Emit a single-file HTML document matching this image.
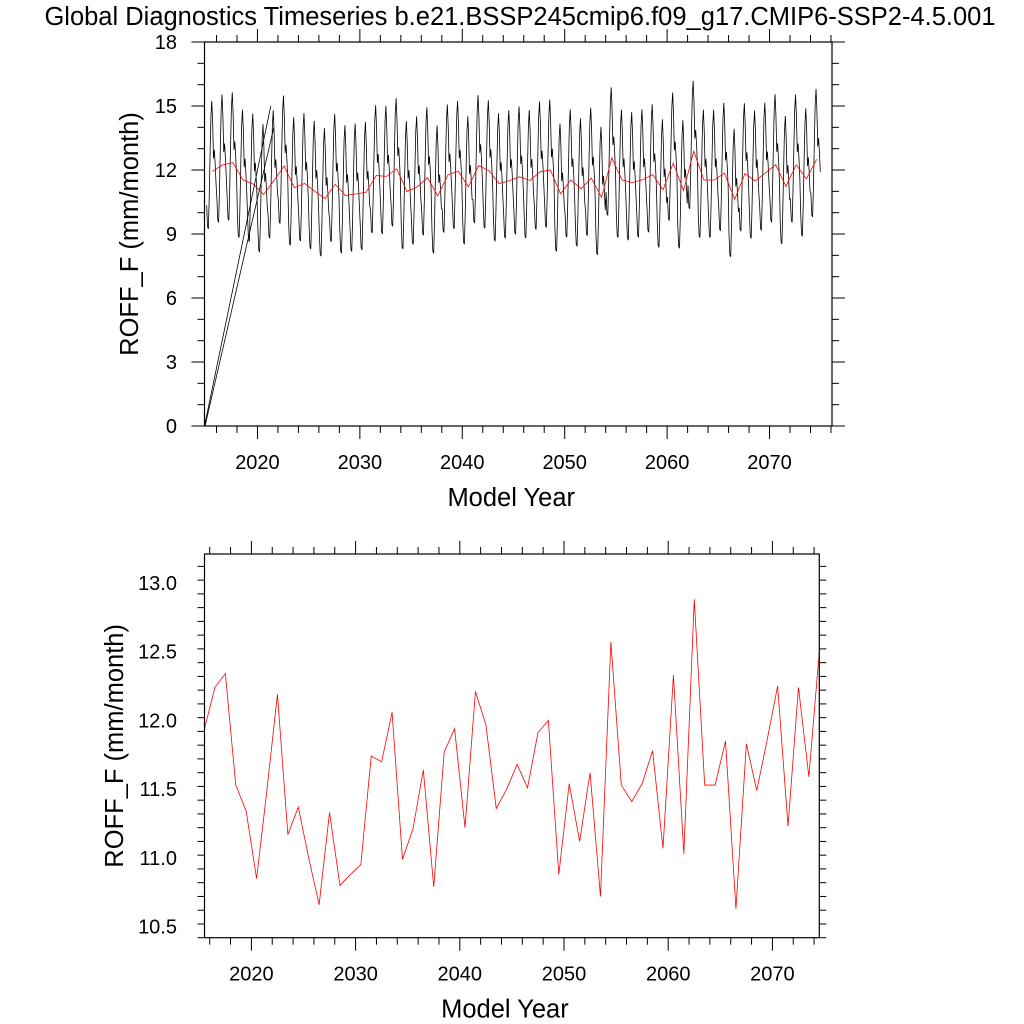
<!DOCTYPE html>
<html><head><meta charset="utf-8"><style>
html,body{margin:0;padding:0;background:#fff;}
svg{display:block;font-family:"Liberation Sans",sans-serif;}
</style></head><body>
<svg id="chart" width="1024" height="1024" viewBox="0 0 1024 1024" xmlns="http://www.w3.org/2000/svg">
<rect width="1024" height="1024" fill="#fff"/>
<text x="520" y="25" font-size="25.5" text-anchor="middle">Global Diagnostics Timeseries b.e21.BSSP245cmip6.f09_g17.CMIP6-SSP2-4.5.001</text>
<g id="top"></g>
<g id="bot"></g>
</svg>
<script>
const years = [];
for (let y = 2015; y <= 2074; y++) years.push(y);
const annualMeans = [11.94,12.24,12.34,11.53,11.34,10.85,11.5,12.19,11.17,11.37,11.0,10.66,11.33,10.80,10.88,10.95,11.74,11.70,12.06,10.99,11.21,11.64,10.79,11.77,11.94,11.22,12.21,11.97,11.36,11.50,11.68,11.51,11.91,12.0,10.88,11.54,11.12,11.62,10.72,12.57,11.53,11.41,11.54,11.78,11.07,12.33,11.03,12.88,11.53,11.53,11.85,10.63,11.83,11.49,11.86,12.25,11.23,12.24,11.59,12.5];
const monthlyAnomaly = [-1.6,-2.6,-2.7,-1.2,0.8,2.6,3.3,2.3,0.6,1.0,0.3,-0.6];
const artifactX = [2014.83,2021.3,2014.88,2021.6];
const artifactY = [0,15.0,0,14.0];
const topYTicks = [0,3,6,9,12,15,18];
const botYTicks = [10.5,11.0,11.5,12.0,12.5,13.0];
const botYLabels = ["10.5","11.0","11.5","12.0","12.5","13.0"];
const xTicks = [2020,2030,2040,2050,2060,2070];

const NS = "http://www.w3.org/2000/svg";
function mk(parent, tag, attrs, text) {
  const e = document.createElementNS(NS, tag);
  for (const k in attrs) e.setAttribute(k, attrs[k]);
  if (text !== undefined) e.textContent = text;
  parent.appendChild(e);
  return e;
}
function panel(g, box, xd, yd, yMinor, yTicks, yLabels, xMinorStep) {
  const sx = v => box.l + (v - xd[0]) / (xd[1] - xd[0]) * (box.r - box.l);
  const sy = v => box.b - (v - yd[0]) / (yd[1] - yd[0]) * (box.b - box.t);
  const ax = mk(g, "g", {});
  
  
  for (let yr = Math.ceil(xd[0] / xMinorStep) * xMinorStep; yr <= xd[1]; yr += xMinorStep) {
    const x = sx(yr), maj = yr % 10 === 0, L = maj ? 13 : 7;
    const t1 = mk(ax, "line", {x1:x,x2:x,y1:box.b,y2:box.b+L,stroke:"#000","stroke-width":1});
    
    
    const t2 = mk(ax, "line", {x1:x,x2:x,y1:box.t,y2:box.t-L,stroke:"#000","stroke-width":1});
    
    
  }
  xTicks.forEach(v => {
    const t = mk(ax, "text", {x:sx(v), y:box.b+43, "font-size":20, "text-anchor":"middle"}, String(v));
    
    
  });
  for (let i = 0; ; i++) {
    const v = yd[0] + i * yMinor; if (v > yd[1] + 1e-6) break;
    const maj = yTicks.some(t => Math.abs(t - v) < 1e-6), L = maj ? 13 : 7, y = sy(v);
    const t1 = mk(ax, "line", {x1:box.l,x2:box.l-L,y1:y,y2:y,stroke:"#000","stroke-width":1});
    
    
    const t2 = mk(ax, "line", {x1:box.r,x2:box.r+L,y1:y,y2:y,stroke:"#000","stroke-width":1});
    
    
  }
  yTicks.forEach((v, i) => {
    const t = mk(ax, "text", {x:box.l-27.5, y:sy(v)+7, "font-size":20, "text-anchor":"end"}, yLabels[i]);
    
    
  });
  return {sx, sy, ax};
}
function finish(g, box, ytX) {
  const f = mk(g, "rect", {x:box.l,y:box.t,width:box.r-box.l,height:box.b-box.t,fill:"none",stroke:"#000","stroke-width":1.2});
  
  
  const cy = (box.t + box.b) / 2;
  const yt = mk(g, "text", {x:ytX, y:cy, "font-size":25.5, "text-anchor":"middle", transform:`rotate(-90 ${ytX} ${cy})`}, "ROFF_F (mm/month)");
  
  
  const xt = mk(g, "text", {x:(box.l+box.r)/2 - 7, y:box.b+80, "font-size":25.5, "text-anchor":"middle"}, "Model Year");
  
  
}

const topG = document.getElementById("top");
const tb = {l:204.5, r:832, t:42, b:426};
const T = panel(topG, tb, [2014.83, 2076.1], [0, 18], 1, topYTicks, topYTicks.map(String), 2);
let pts = [];
years.forEach((y, i) => monthlyAnomaly.forEach((a, m) => {
  pts.push(T.sx(y + (m + 0.5) / 12).toFixed(2) + "," + T.sy(annualMeans[i] + a).toFixed(2));
}));
const ml = mk(topG, "polyline", {points:pts.join(" "), fill:"none", stroke:"#000", "stroke-width":0.8});


for (let k = 0; k < artifactX.length; k += 2) {
  const al = mk(topG, "line", {x1:T.sx(artifactX[k]), y1:T.sy(artifactY[k]), x2:T.sx(artifactX[k+1]), y2:T.sy(artifactY[k+1]), stroke:"#000", "stroke-width":0.8});
  
  
}
const ap = years.map((y, i) => T.sx(y + 0.6).toFixed(2) + "," + T.sy(annualMeans[i]).toFixed(2)).join(" ");
const al = mk(topG, "polyline", {points:ap, fill:"none", stroke:"#f00", "stroke-width":0.8});


finish(topG, tb, 138);

const botG = document.getElementById("bot");
const bb = {l:204.5, r:819.3, t:554, b:937.7};
const B = panel(botG, bb, [2015.5, 2074.5], [10.42, 13.21], 0.1, botYTicks, botYLabels, 2);
const bp = years.map((y, i) => B.sx(y + 0.5).toFixed(2) + "," + B.sy(annualMeans[i]).toFixed(2)).join(" ");
const bl = mk(botG, "polyline", {points:bp, fill:"none", stroke:"#f00", "stroke-width":0.8});


finish(botG, bb, 123);
</script>
</body></html>
